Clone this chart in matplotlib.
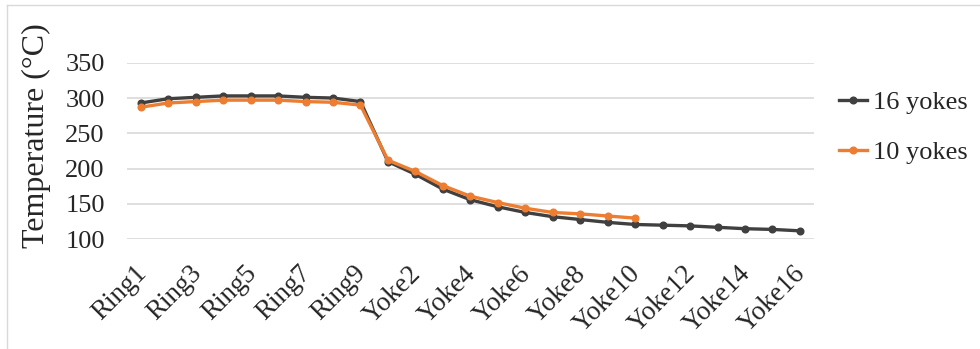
import numpy as np
import matplotlib
matplotlib.use("Agg")
import matplotlib.pyplot as plt
from matplotlib.lines import Line2D
from matplotlib.transforms import ScaledTranslation

# positions along the machine: rings first, then yokes
categories = ['Ring1', 'Ring2', 'Ring3', 'Ring4', 'Ring5', 'Ring6', 'Ring7', 'Ring8', 'Ring9',
              'Yoke1', 'Yoke2', 'Yoke3', 'Yoke4', 'Yoke5', 'Yoke6', 'Yoke7', 'Yoke8',
              'Yoke9', 'Yoke10', 'Yoke11', 'Yoke12', 'Yoke13', 'Yoke14', 'Yoke15', 'Yoke16']

# temperatures (degC)
temp_16_yokes = [293, 299, 301, 303, 303, 303, 301, 300, 295,
                 210, 192, 171, 156, 146, 138, 132, 128, 124, 121, 120, 119, 117, 115, 114, 112]
temp_10_yokes = [287, 293, 295, 297, 297, 297, 295, 294, 290,
                 212, 196, 176, 161, 152, 144, 138, 136, 133, 130]

y_ticks = [100, 150, 200, 250, 300, 350]

plt.rcParams['font.family'] = ['Liberation Serif', 'DejaVu Serif']

fig = plt.figure(figsize=(9.8, 3.49), dpi=100)
ax = fig.add_axes([0.1296, 0.3143, 0.7007, 0.506])

x16 = np.arange(len(temp_16_yokes))
x10 = np.arange(len(temp_10_yokes))
ax.plot(x16, temp_16_yokes, color='#404040', lw=2.4, marker='o', ms=4.8,
        label='16 yokes', zorder=3)
ax.plot(x10, temp_10_yokes, color='#ED7D31', lw=2.4, marker='o', ms=4.8,
        label='10 yokes', zorder=4)

ax.set_xlim(-0.5, len(categories) - 0.5)
ax.set_ylim(100, 350)
ax.set_yticks(y_ticks)
ax.set_yticklabels([str(v) for v in y_ticks], fontsize=19, color='#262626')
ax.set_xticks(np.arange(0, len(categories), 2))
ax.set_xticklabels(categories[::2], fontsize=19.5, rotation=45, ha='right',
                   va='center', rotation_mode='anchor', color='#262626')
ax.tick_params(axis='y', length=0, pad=16)
ax.tick_params(axis='x', length=0, pad=22)

# nudge rotated category labels a little to the right of their ticks
shift = ScaledTranslation(2 / 100, 0, fig.dpi_scale_trans)
for lbl in ax.get_xticklabels():
    lbl.set_transform(lbl.get_transform() + shift)

ax.grid(axis='y', color='#D9D9D9', lw=1.2)
ax.set_axisbelow(True)
for s in ax.spines.values():
    s.set_visible(False)

ax.set_ylabel('Temperature (°C)', fontsize=23, color='#262626', va='center')
ax.yaxis.set_label_coords(-0.1325, 0.588)

ax.legend(loc='center left', bbox_to_anchor=(0.856, 0.635), bbox_transform=fig.transFigure,
          frameon=False, fontsize=19, borderpad=0, borderaxespad=0,
          handlelength=1.06, handletextpad=0.23, labelspacing=1.0,
          labelcolor='#262626')

# light chart border along top and left
fig.add_artist(Line2D([7.3 / 980, 1.0], [1 - 5.3 / 349, 1 - 5.3 / 349],
                      transform=fig.transFigure, color='#D9D9D9', lw=1.0))
fig.add_artist(Line2D([7.3 / 980, 7.3 / 980], [0.0, 1 - 5.3 / 349],
                      transform=fig.transFigure, color='#D9D9D9', lw=1.0))

fig.savefig('out.png', dpi=100)
